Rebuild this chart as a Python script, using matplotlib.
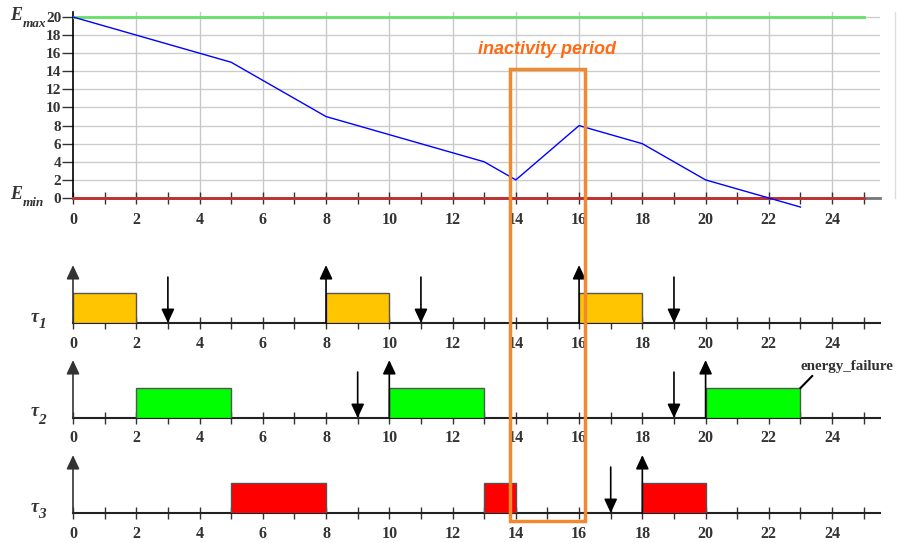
import matplotlib
matplotlib.use("Agg")

import matplotlib.pyplot as plt
import matplotlib.transforms as mtransforms
from matplotlib.patches import Rectangle

# ============================================================
# DATA
# ============================================================
energy_t = [0, 2, 5, 8, 13, 14, 16, 18, 20, 22, 23]
energy_v = [20, 18, 15, 9, 4, 2, 8, 6, 2, 0, -1]
e_max = 20
e_min = 0
horizon = 25

energy_yticks = [0, 2, 4, 6, 8, 10, 12, 14, 16, 18, 20]
time_ticks = [0, 2, 4, 6, 8, 10, 12, 14, 16, 18, 20, 22, 24]

task_subscripts = ["1", "2", "3"]
task_colors = ["#FFC600", "#00FF00", "#FF0000"]
task_jobs = [
    [(0, 2), (8, 10), (16, 18)],
    [(2, 5), (10, 13), (20, 23)],
    [(5, 8), (13, 14), (18, 20)],
]
task_releases = [[8, 16], [10, 20], [18]]
task_deadlines = [[3, 11, 19], [9, 19], [17]]

inactivity_start = 13.83
inactivity_end = 16.2

# ============================================================
# STYLE
# ============================================================
plt.rcParams["font.family"] = ["Liberation Serif", "DejaVu Serif"]

W, H = 897, 543
DPI = 100
px_per_t = 31.63
x0_px = 73
xmax = 25.5
label_color = "#333333"

fig = plt.figure(figsize=(W / DPI, H / DPI), dpi=DPI)


def fx(px):
    return px / W


def fy(py):
    return (H - py) / H


ax_w = xmax * px_per_t / W

# ============================================================
# ENERGY PANEL
# ============================================================
ylim_top = 20.6
px_per_e = 9.05
ax_e = fig.add_axes([fx(x0_px), fy(198), ax_w, ylim_top * px_per_e / H])
ax_e.set_xlim(0, xmax)
ax_e.set_ylim(0, ylim_top)

for y in energy_yticks[1:]:
    ax_e.axhline(y, color="#cccccc", lw=1, zorder=1)
for t in time_ticks[1:]:
    ax_e.axvline(t, color="#c8c8c8", lw=1, zorder=1)

ax_e.plot([0, horizon], [e_max, e_max], color="#66e066", lw=2, zorder=3)
ax_e.plot([0, horizon], [e_min, e_min], color="#c03030", lw=2, zorder=4, clip_on=False)
ax_e.plot(energy_t, energy_v, color="#0000ff", lw=1, zorder=5, clip_on=False)

# thin frame line on the right
ax_e.plot([25.98, 25.98], [0, ylim_top], color="#dddddd", lw=1, clip_on=False)

for s in ["top", "right"]:
    ax_e.spines[s].set_visible(False)
ax_e.spines["left"].set_color("black")
ax_e.spines["left"].set_linewidth(1.2)
ax_e.spines["bottom"].set_color("#777777")
ax_e.spines["bottom"].set_linewidth(2)

ax_e.set_yticks(energy_yticks)
ax_e.set_yticklabels([str(v) for v in energy_yticks])
ax_e.set_xticks(range(0, horizon + 1))
ax_e.set_xticklabels([str(t) if t % 2 == 0 and t < 25 else "" for t in range(0, horizon + 1)])
ax_e.tick_params(axis="y", direction="out", length=8, width=1, colors="#333333",
                 labelsize=11, pad=0.5)
ax_e.tick_params(axis="x", direction="inout", length=8, width=1, colors="#333333",
                 labelsize=11.5, pad=6)
for lbl in ax_e.get_xticklabels() + ax_e.get_yticklabels():
    lbl.set_fontweight("bold")
    lbl.set_color(label_color)

# E_max / E_min labels
for name, base_y in [("max", 20), ("min", 199)]:
    fig.text(fx(10), fy(base_y), "E", ha="left", va="baseline", fontsize=13,
             fontweight="bold", fontstyle="italic", color=label_color)
    fig.text(fx(23), fy(base_y + 7), name, ha="left", va="baseline", fontsize=9.5,
             fontweight="bold", fontstyle="italic", color=label_color)

# ============================================================
# TASK PANELS
# ============================================================
px_per_u = 30
lane_bottoms = [323, 418, 513]
lane_axes = []
arrow_style = "-|>,head_length=0.6,head_width=0.28"

for i, base in enumerate(lane_bottoms):
    ax = fig.add_axes([fx(x0_px), fy(base), ax_w, 2.0 * px_per_u / H])
    ax.set_xlim(0, xmax)
    ax.set_ylim(0, 2.0)
    ax.patch.set_visible(False)
    for s in ["top", "right", "left"]:
        ax.spines[s].set_visible(False)
    ax.spines["bottom"].set_color("#222222")
    ax.spines["bottom"].set_linewidth(1.5)
    ax.set_yticks([])
    ax.set_xticks(range(0, horizon + 1))
    ax.set_xticklabels([str(t) if t % 2 == 0 and t < 25 else "" for t in range(0, horizon + 1)])
    ax.tick_params(axis="x", direction="inout", length=8, width=1, colors="#333333",
                   labelsize=11.5, pad=5)
    for lbl in ax.get_xticklabels():
        lbl.set_fontweight("bold")
        lbl.set_color(label_color)

    # jobs
    for (s, e) in task_jobs[i]:
        ax.add_patch(Rectangle((s, 0), e - s, 1, facecolor=task_colors[i],
                               edgecolor="#555555", lw=1, zorder=3))

    # lane y-axis arrow
    ax.annotate("", xy=(0, 1.93), xytext=(0, 0),
                arrowprops=dict(arrowstyle=arrow_style, mutation_scale=14,
                                color="#333333", lw=1.2, shrinkA=0, shrinkB=0),
                annotation_clip=False, zorder=5)
    # releases
    for r in task_releases[i]:
        ax.annotate("", xy=(r, 1.93), xytext=(r, 0),
                    arrowprops=dict(arrowstyle=arrow_style, mutation_scale=14,
                                    color="black", lw=1.2, shrinkA=0, shrinkB=0),
                    annotation_clip=False, zorder=5)
    # deadlines
    for d in task_deadlines[i]:
        ax.annotate("", xy=(d, 0), xytext=(d, 1.53),
                    arrowprops=dict(arrowstyle=arrow_style, mutation_scale=14,
                                    color="black", lw=1.2, shrinkA=0, shrinkB=0),
                    annotation_clip=False, zorder=5)

    # task label: tau with italic subscript
    fig.text(fx(35), fy(base - 6), "\u03c4", ha="center", va="center", fontsize=13,
             fontweight="bold", fontstyle="italic", color=label_color)
    fig.text(fx(42), fy(base + 2), task_subscripts[i], ha="center", va="center",
             fontsize=11, fontweight="bold", fontstyle="italic", color=label_color)
    lane_axes.append(ax)

# energy failure marker on tau2
ax2 = lane_axes[1]
ax2.plot([23, 23.37], [1.0, 1.4], color="black", lw=1.5, clip_on=False, zorder=6)
ax2.text(23.0, 1.5, "energy_failure", fontsize=10.8, fontweight="bold",
         color=label_color, ha="left", va="bottom", clip_on=False)

# ============================================================
# INACTIVITY PERIOD
# ============================================================
trans = mtransforms.blended_transform_factory(ax_e.transData, fig.transFigure)
rect = Rectangle((inactivity_start, fy(521)), inactivity_end - inactivity_start,
                 fy(69) - fy(521), transform=trans, fill=False,
                 edgecolor="#F08A30", lw=2.5, zorder=10, clip_on=False)
fig.add_artist(rect)
fig.text(15.0, fy(49), "inactivity period", transform=trans,
         fontsize=13, fontweight="bold", fontstyle="italic",
         family=["Liberation Sans", "DejaVu Sans"], color="#FF6A13",
         ha="center", va="center")

fig.savefig("out.png", dpi=DPI)
